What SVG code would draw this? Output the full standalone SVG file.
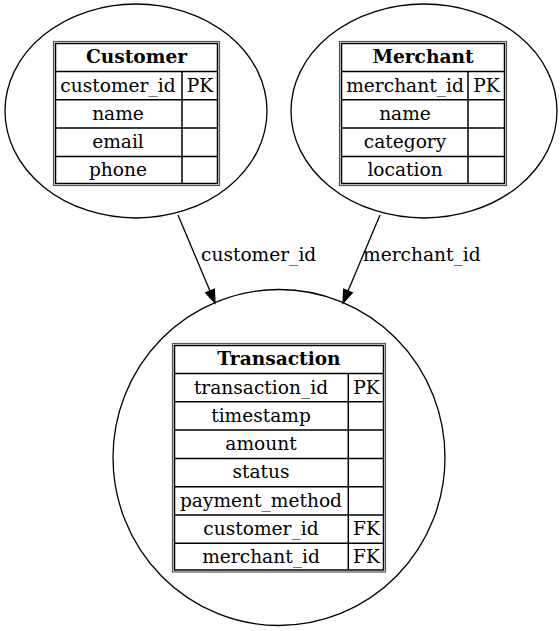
<svg xmlns="http://www.w3.org/2000/svg" width="560" height="631" viewBox="0 0 560 631">
<style>
.bg{fill:#fff}
.shape{fill:none;stroke:#000;stroke-width:1.3}
.tbl{fill:none;stroke:#555;stroke-width:1.2}
.cell{fill:none;stroke:#000;stroke-width:1.5}
text{font-family:"DejaVu Serif",serif;font-size:18.6px;fill:#000;text-anchor:middle}
.h{font-weight:bold}
.lbl{text-anchor:start}
.edge{fill:none;stroke:#000;stroke-width:1.3}
.head{fill:#000;stroke:#000;stroke-width:1.3}
</style>
<rect class="bg" x="0" y="0" width="560" height="631"/>
<g id="connectors">
  <path class="edge" d="M178,215 L210,291"/>
  <polygon class="head" points="215,303 214.3,289.2 205.7,292.8"/>
  <text class="lbl" x="201" y="261">customer_id</text>
  <path class="edge" d="M380,215 L348,291"/>
  <polygon class="head" points="343,303 352.3,292.8 343.7,289.2"/>
  <text class="lbl" x="363" y="261">merchant_id</text>
</g>
<g id="Customer">
  <ellipse class="shape" cx="136" cy="111" rx="131" ry="107"/>
  <rect class="tbl" x="53.5" y="41.5" width="166" height="144"/>
  <rect class="cell" x="55.5" y="43.5" width="162" height="140"/>
  <path class="cell" d="M55.5,71.5H217.5M55.5,99.8H217.5M55.5,128.1H217.5M55.5,156.4H217.5M182,71.5V183.5"/>
  <text class="h" x="136.5" y="62.6">Customer</text>
  <text x="118" y="91.5">customer_id</text><text x="200" y="91.5">PK</text>
  <text x="118" y="119.8">name</text>
  <text x="118" y="148.1">email</text>
  <text x="118" y="176.3">phone</text>
</g>
<g id="Merchant">
  <ellipse class="shape" cx="424" cy="111" rx="133" ry="107"/>
  <rect class="tbl" x="339.5" y="41.5" width="167" height="144"/>
  <rect class="cell" x="341.5" y="43.5" width="163" height="140"/>
  <path class="cell" d="M341.5,71.5H504.5M341.5,99.8H504.5M341.5,128.1H504.5M341.5,156.4H504.5M468,71.5V183.5"/>
  <text class="h" x="423" y="62.6">Merchant</text>
  <text x="405" y="91.5">merchant_id</text><text x="486.5" y="91.5">PK</text>
  <text x="405" y="119.8">name</text>
  <text x="405" y="148.1">category</text>
  <text x="405" y="176.3">location</text>
</g>
<g id="Transaction">
  <ellipse class="shape" cx="279" cy="457.5" rx="166" ry="168"/>
  <rect class="tbl" x="172.5" y="343.5" width="213" height="228.5"/>
  <rect class="cell" x="174.5" y="345.5" width="209" height="224.5"/>
  <path class="cell" d="M174.5,373.5H383.5M174.5,401.8H383.5M174.5,430.1H383.5M174.5,458.4H383.5M174.5,486.7H383.5M174.5,515H383.5M174.5,543.3H383.5M348.3,373.5V570"/>
  <text class="h" x="279" y="364.5">Transaction</text>
  <text x="261" y="393.5">transaction_id</text><text x="366.5" y="393.5">PK</text>
  <text x="261" y="421.8">timestamp</text>
  <text x="261" y="450.1">amount</text>
  <text x="261" y="478.3">status</text>
  <text x="261" y="506.6">payment_method</text>
  <text x="261" y="534.9">customer_id</text><text x="366.5" y="534.9">FK</text>
  <text x="261" y="563.2">merchant_id</text><text x="366.5" y="563.2">FK</text>
</g>
</svg>
